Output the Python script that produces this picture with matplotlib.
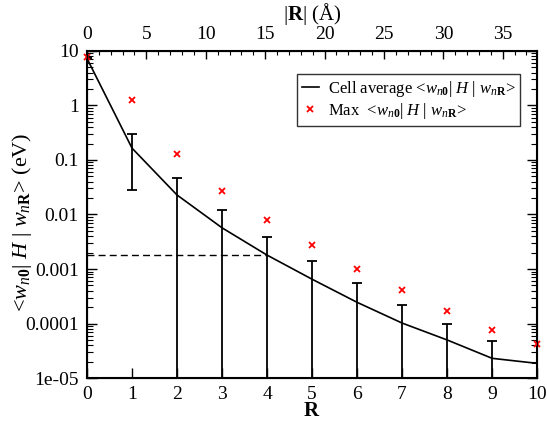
import matplotlib
matplotlib.use("Agg")
import matplotlib.pyplot as plt
from matplotlib.ticker import FixedLocator, FixedFormatter, LogLocator, NullFormatter, MultipleLocator

plt.rcParams['font.family'] = ['Liberation Serif', 'DejaVu Serif']
plt.rcParams['mathtext.fontset'] = 'custom'
plt.rcParams['mathtext.rm'] = 'Liberation Serif'
plt.rcParams['mathtext.it'] = 'Liberation Serif:italic'
plt.rcParams['mathtext.bf'] = 'Liberation Serif:bold'

# shell index R and the hopping magnitudes (eV)
R = [0, 1, 2, 3, 4, 5, 6, 7, 8, 9, 10]
cell_avg = [7.3, 0.165, 0.0228, 0.0057, 0.0018, 0.00065, 0.000245, 0.000102, 5.0e-5, 2.3e-5, 1.86e-5]
cell_err = [0, 0.137, 0.0232, 0.0065, 0.0021, 0.00077, 0.0003, 0.000117, 4.7e-5, 2.4e-5, 0]
max_val = [7.9, 1.26, 0.129, 0.0273, 0.0078, 0.00272, 0.00101, 0.000406, 0.000169, 7.7e-5, 4.3e-5]

ytick_vals = [10, 1, 0.1, 0.01, 0.001, 0.0001, 1e-05]
ytick_labels = ['10', '1', '0.1', '0.01', '0.001', '0.0001', '1e-05']
R_to_angstrom = 3.79   # |R| per shell step
dashed_at = 4          # shell where the dashed guide line ends

fig = plt.figure(figsize=(5.47, 4.21), dpi=100)
ax = fig.add_axes([0.159, 0.102, 0.823, 0.777])

ax.plot(R, cell_avg, color='black', lw=1.2,
        label=r'Cell average <$w_{n\mathbf{0}}$| $H$ | $w_{n\mathbf{R}}$>')
ax.errorbar(R, cell_avg, yerr=cell_err, fmt='none', ecolor='black',
            elinewidth=1.3, capsize=3.5, capthick=1.3)
ax.plot(R, max_val, 'x', color='red', ms=5, mew=1.3, clip_on=False, zorder=5,
        label=r'Max  <$w_{n\mathbf{0}}$| $H$ | $w_{n\mathbf{R}}$>')

# dashed guide from the axis to the average at shell 4
ax.plot([R[0], R[dashed_at]], [cell_avg[dashed_at]] * 2, color='black', lw=1.0,
        ls=(0, (5, 3)))

ax.set_yscale('log')
ax.set_xlim(0, 10)
ax.set_ylim(1e-5, 10)
ax.xaxis.set_major_locator(MultipleLocator(1))
ax.yaxis.set_major_locator(FixedLocator(ytick_vals))
ax.yaxis.set_major_formatter(FixedFormatter(ytick_labels))
ax.yaxis.set_minor_locator(LogLocator(base=10, subs=range(2, 10), numticks=20))
ax.yaxis.set_minor_formatter(NullFormatter())
ax.tick_params(axis='both', which='major', direction='in', length=7, width=1.0,
               labelsize=14, top=False, right=True, pad=6)
ax.tick_params(axis='y', which='minor', direction='in', length=4, width=0.8, right=True)
for s in ax.spines.values():
    s.set_linewidth(1.5)

ax.set_xlabel(r'$\mathbf{R}$', fontsize=15, labelpad=-1)
ax.set_ylabel(r'<$w_{n\mathbf{0}}$| $H$ | $w_{n\mathbf{R}}$> (eV)', fontsize=16)
ax.yaxis.set_label_coords(-0.118, 0.475)

top = ax.twiny()
top.set_xlim(0, 10 * R_to_angstrom)
top.xaxis.set_major_locator(MultipleLocator(5))
top.xaxis.set_minor_locator(MultipleLocator(1))
top.tick_params(axis='x', which='major', direction='in', length=6, width=1.0,
                labelsize=14, pad=6)
top.tick_params(axis='x', which='minor', direction='in', length=3, width=0.8)
top.set_xlabel(r'|$\mathbf{R}$| (Å)', fontsize=15, labelpad=4)

leg = ax.legend(loc='upper right', bbox_to_anchor=(0.963, 0.93), fontsize=12,
                frameon=True, fancybox=False, handlelength=1.0, handletextpad=0.55,
                borderpad=0.3, labelspacing=0.1, borderaxespad=0)
leg.get_frame().set_edgecolor('black')
leg.get_frame().set_linewidth(1.0)

fig.savefig('out.png', dpi=100)
